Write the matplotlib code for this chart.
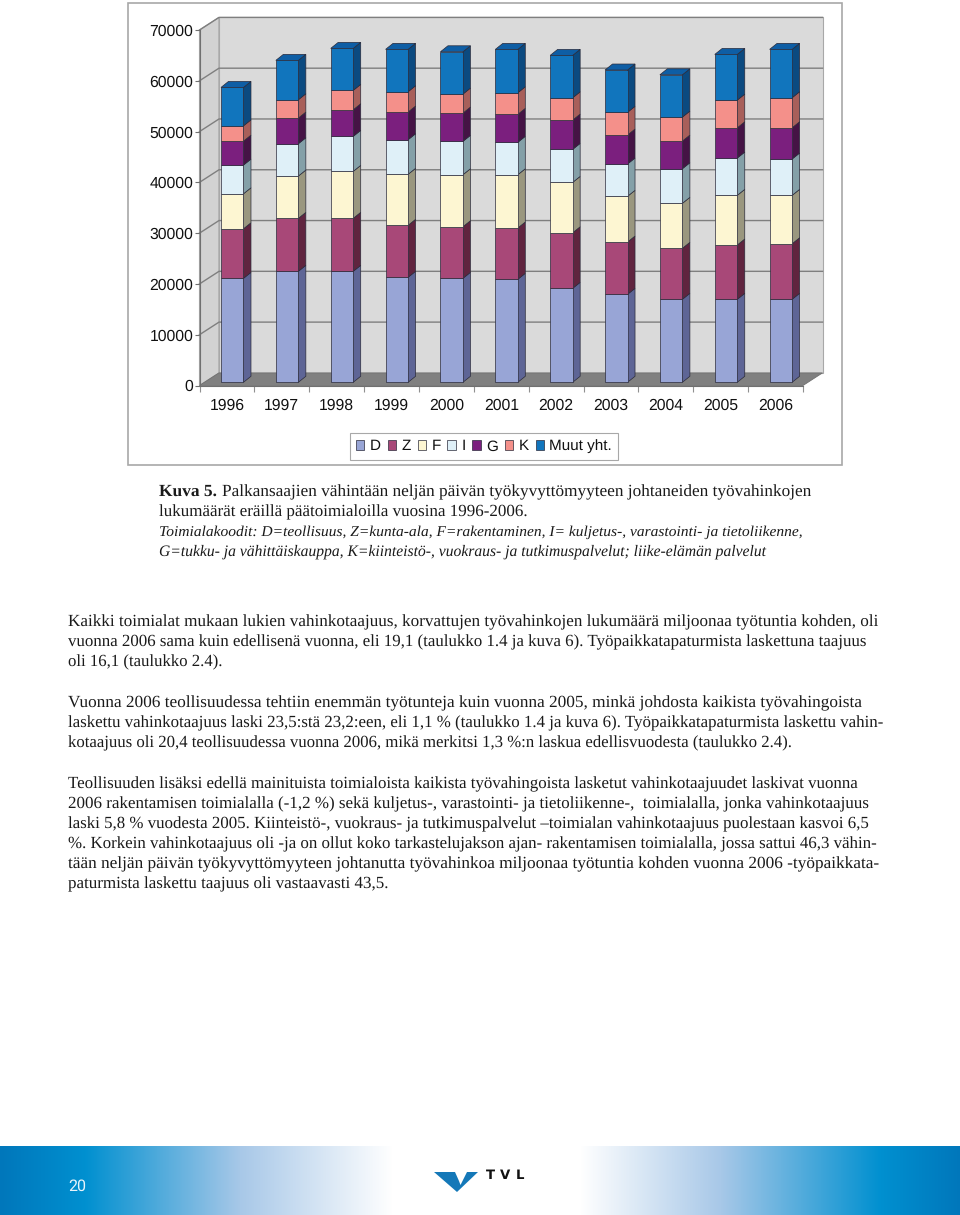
import matplotlib
matplotlib.use("Agg")
import numpy as np
import matplotlib.pyplot as plt
from matplotlib.patches import Polygon, Rectangle

plt.rcParams["text.hinting"] = "none"

years = ["1996", "1997", "1998", "1999", "2000", "2001", "2002", "2003", "2004", "2005", "2006"]
D = [20470, 21850, 21850, 20670, 20470, 20280, 18500, 17320, 16340, 16340, 16340]
Z = [9760, 10430, 10430, 10240, 10160, 10100, 10940, 10300, 10040, 10690, 10940]
F = [6890, 8330, 9250, 10040, 10240, 10490, 9920, 9000, 8860, 9780, 9530]
I = [5650, 6360, 6890, 6810, 6570, 6380, 6500, 6360, 6810, 7340, 7150]
G = [4720, 5060, 5240, 5450, 5570, 5510, 5770, 5710, 5450, 5960, 6160]
K = [3010, 3600, 3820, 4000, 3740, 4250, 4390, 4470, 4720, 5450, 5910]
muut = [7560, 7760, 8270, 8350, 8330, 8540, 8350, 8330, 8330, 9000, 9530]
series_names = ["D", "Z", "F", "I", "G", "K", "Muut yht."]
yticks = [0, 10000, 20000, 30000, 40000, 50000, 60000, 70000]

caption_lines = [
    ("Palkansaajien vähintään neljän päivän työkyvyttömyyteen johtaneiden työvahinkojen", 222, 496, 810, "normal"),
    ("lukumäärät eräillä päätoimialoilla vuosina 1996-2006.", 159, 516, 527, "normal"),
    ("Toimialakoodit: D=teollisuus, Z=kunta-ala, F=rakentaminen, I= kuljetus-, varastointi- ja tietoliikenne,", 159, 536, 801, "italic"),
    ("G=tukku- ja vähittäiskauppa, K=kiinteistö-, vuokraus- ja tutkimuspalvelut; liike-elämän palvelut", 159, 556, 765, "italic"),
]
body_lines = [
    ("Kaikki toimialat mukaan lukien vahinkotaajuus, korvattujen työvahinkojen lukumäärä miljoonaa työtuntia kohden, oli", 626, 879),
    ("vuonna 2006 sama kuin edellisenä vuonna, eli 19,1 (taulukko 1.4 ja kuva 6). Työpaikkatapaturmista laskettuna taajuus", 646, 870),
    ("oli 16,1 (taulukko 2.4).", 666, 222),
    ("Vuonna 2006 teollisuudessa tehtiin enemmän työtunteja kuin vuonna 2005, minkä johdosta kaikista työvahingoista", 707, 858),
    ("laskettu vahinkotaajuus laski 23,5:stä 23,2:een, eli 1,1 % (taulukko 1.4 ja kuva 6). Työpaikkatapaturmista laskettu vahin-", 727, 880),
    ("kotaajuus oli 20,4 teollisuudessa vuonna 2006, mikä merkitsi 1,3 %:n laskua edellisvuodesta (taulukko 2.4).", 747, 793),
    ("Teollisuuden lisäksi edellä mainituista toimialoista kaikista työvahingoista lasketut vahinkotaajuudet laskivat vuonna", 788, 861),
    ("2006 rakentamisen toimialalla (-1,2 %) sekä kuljetus-, varastointi- ja tietoliikenne-,  toimialalla, jonka vahinkotaajuus", 808, 870),
    ("laski 5,8 % vuodesta 2005. Kiinteistö-, vuokraus- ja tutkimuspalvelut –toimialan vahinkotaajuus puolestaan kasvoi 6,5", 828, 867),
    ("%. Korkein vahinkotaajuus oli -ja on ollut koko tarkastelujakson ajan- rakentamisen toimialalla, jossa sattui 46,3 vähin-", 848, 880),
    ("tään neljän päivän työkyvyttömyyteen johtanutta työvahinkoa miljoonaa työtuntia kohden vuonna 2006 -työpaikkata-", 868, 880),
    ("paturmista laskettu taajuus oli vastaavasti 43,5.", 888, 387),
]

front_colors = ["#98a5d6", "#a84878", "#fdf6d2", "#dff0f8", "#7b1f7e", "#f4908a", "#1175bd"]
side_colors = ["#5e6596", "#60243f", "#9a977f", "#84a0a8", "#451345", "#a85f5a", "#0b4a80"]
top_color = "#0e5ea5"

W, H = 960, 1215
fig = plt.figure(figsize=(W / 100, H / 100), dpi=100)

# page layer in pixel coordinates
page = fig.add_axes([0, 0, 1, 1])
page.axis("off")

# chart frame
page.add_patch(Rectangle((127.5, 3), 714, 462, facecolor="white", edgecolor="#a8a8a8", linewidth=1.2))

# footer band
stops_x = [0, 85, 240, 392, 580, 720, 880, 960]
stops_c = [(0, 119, 187), (0, 144, 208), (168, 200, 232), (255, 255, 255),
           (255, 255, 255), (168, 200, 232), (0, 144, 208), (0, 119, 187)]
xs = np.arange(W)
grad = np.stack([np.interp(xs, stops_x, [c[k] for c in stops_c]) for k in range(3)], axis=-1) / 255
page.imshow(grad[np.newaxis, :, :], extent=(0, W, 1215, 1146), aspect="auto", zorder=1)
page.set_xlim(0, W)
page.set_ylim(H, 0)
page.text(77, 1186, "20", color="#e8f4fb", fontsize=11.5, ha="center", va="center", family="Roboto", zorder=3)

# logo
page.add_patch(Polygon([(434, 1172), (478, 1172), (457, 1192)], facecolor="#1478b8", edgecolor="none", zorder=2))
page.add_patch(Polygon([(455, 1172), (467, 1172), (463, 1180), (460.5, 1185), (459, 1181)],
                       facecolor="white", edgecolor="none", zorder=3))
for letter, lx in zip("TVL", [490, 505, 520]):
    page.text(lx, 1175, letter, color="#111111", fontsize=9.5, fontweight="bold", family="DejaVu Sans",
              ha="center", va="center", zorder=3)

# text
renderer = fig.canvas.get_renderer()


def fit_line(text, x, y, right, style="normal", weight="normal", size=11.5):
    t = page.text(x, y, text, family="Liberation Serif", fontsize=size, style=style, fontweight=weight,
                  color="#1a1a1a", ha="left", va="baseline")
    for _ in range(3):
        width = t.get_window_extent(renderer).width
        t.set_fontsize(t.get_fontsize() * (right - x) / width)


fit_line("Kuva 5.", 159, 496, 217, weight="bold")
for text, x, y, right, style in caption_lines:
    fit_line(text, x, y, right, style=style)
for text, y, right in body_lines:
    fit_line(text, 68, y, right)

# chart axes: front plane of the 3D box
left, right_px, y0_px, y70_px = 199.5, 803, 385.5, 30
ax = fig.add_axes([left / W, 1 - y0_px / H, (right_px - left) / W, (y0_px - y70_px) / H])
ax.patch.set_alpha(0)
ax.set_xlim(0, len(years))
ax.set_ylim(0, 70000)

px_x = (right_px - left) / len(years)
px_y = (y0_px - y70_px) / 70000
box_dx = 19.5 / px_x
box_dy = 12.6 / px_y
bar_dx = 7.5 / px_x
bar_dy = 6 / px_y
ymax = 70000
nx = len(years)
grid_c = "#7f7f7f"

# walls and floor
ax.add_patch(Polygon([(0, 0), (box_dx, box_dy), (box_dx, ymax + box_dy), (0, ymax)], facecolor="#d2d2d2",
                     edgecolor="#a0a0a0", linewidth=0.8, clip_on=False, zorder=1))
ax.add_patch(Rectangle((box_dx, box_dy), nx, ymax, facecolor="#dadada", edgecolor="#a8a8a8", linewidth=0.8,
                       clip_on=False, zorder=1))
ax.add_patch(Polygon([(0, 0), (nx, 0), (nx + box_dx, box_dy), (box_dx, box_dy)], facecolor="#808080",
                     edgecolor="#707070", linewidth=0.6, clip_on=False, zorder=1.5))
for v in yticks[1:]:
    ax.plot([0, box_dx, nx + box_dx], [v, v + box_dy, v + box_dy], color=grid_c, linewidth=1,
            clip_on=False, zorder=1.2)

# bars: base sits a little in front of the axis because of the depth offset
data = [D, Z, F, I, G, K, muut]
centers = np.arange(nx) + 0.5 + 5.3 / px_x
bar_w = 22.5 / px_x
base = 3.2 / px_y
bottoms = np.full(nx, base, dtype=float)
edge = "#2a2a3a"
for vals, name, c, sc in zip(data, series_names, front_colors, side_colors):
    vals = np.array(vals, dtype=float)
    ax.bar(centers, vals, bar_w, bottom=bottoms, color=c, edgecolor=edge, linewidth=0.5, label=name,
           clip_on=False, zorder=3)
    for cx, b, v in zip(centers, bottoms, vals):
        xr = cx + bar_w / 2
        ax.add_patch(Polygon([(xr, b), (xr + bar_dx, b + bar_dy), (xr + bar_dx, b + v + bar_dy), (xr, b + v)],
                             facecolor=sc, edgecolor=edge, linewidth=0.5, clip_on=False, zorder=2.5))
    bottoms = bottoms + vals
for cx, b in zip(centers, bottoms):
    xl, xr = cx - bar_w / 2, cx + bar_w / 2
    ax.add_patch(Polygon([(xl, b), (xr, b), (xr + bar_dx, b + bar_dy), (xl + bar_dx, b + bar_dy)],
                         facecolor=top_color, edgecolor=edge, linewidth=0.5, clip_on=False, zorder=2.5))

# axes, ticks, labels
for s in ["top", "right"]:
    ax.spines[s].set_visible(False)
for s in ["left", "bottom"]:
    ax.spines[s].set_color("#707070")
    ax.spines[s].set_zorder(2)
ax.set_yticks(yticks)
ax.set_yticklabels([str(v) for v in yticks], family="Liberation Sans", fontsize=11.3, color="#111111")
ax.tick_params(axis="y", length=3.5, width=0.8, color="#707070", pad=1)
ax.set_xticks(np.arange(nx + 1))
ax.set_xticklabels([])
ax.set_xticks(np.arange(nx) + 0.5, minor=True)
ax.set_xticklabels(years, minor=True, family="Liberation Sans", fontsize=11.3, color="#111111")
ax.tick_params(axis="x", which="major", length=4, width=0.8, color="#909090")
ax.tick_params(axis="x", which="minor", length=0, pad=9.5)

leg = ax.legend(loc="center", bbox_to_anchor=(484, 446.5), bbox_transform=page.transData, ncol=7,
                prop={"family": "Liberation Sans", "size": 11}, frameon=True, fancybox=False, framealpha=1,
                edgecolor="#a8a8a8", handlelength=0.55, handleheight=0.55, handletextpad=0.35,
                columnspacing=0.45, borderpad=0.4)
leg.get_frame().set_linewidth(0.8)
for txt in leg.get_texts():
    txt.set_color("#111111")

fig.savefig("out.png", dpi=100)
